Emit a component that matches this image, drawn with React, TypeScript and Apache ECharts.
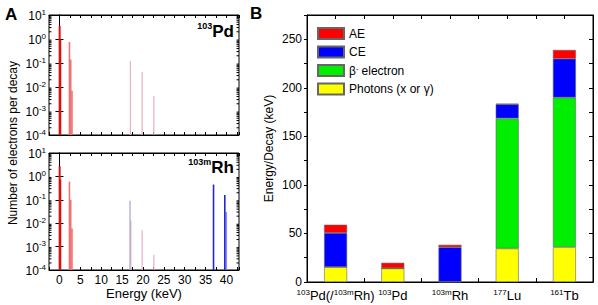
import React, { useEffect, useRef } from 'react';
import * as echarts from 'echarts';

const FONT = '"Liberation Sans", Arial, sans-serif';

// Panel A, top: 103Pd electron spectrum [energy keV, electrons per decay]
const pdAugerN = [[0.05, 3.5], [0.2, 0.9]];
const pdAugerL = [[2.4, 0.75], [2.7, 0.14], [3.0, 0.007]];
const pdAugerK = [[17.0, 0.12], [19.8, 0.042], [22.6, 0.0042]];

// Panel A, bottom: 103mRh electron spectrum
const rhAugerN = [[0.05, 2.7], [0.2, 0.75]];
const rhAugerL = [[2.4, 0.6], [2.7, 0.1], [3.0, 0.006]];
const rhAugerKa = [[16.9, 0.09]];
const rhAugerK = [[17.1, 0.013], [19.8, 0.005], [22.6, 0.00045]];
const rhCE = [[36.9, 0.45], [39.6, 0.16]];
const rhCE2 = [[39.95, 0.03]];

// Panel B: energy per decay (keV)
const bCategories = [
  '{s|103}Pd(/{s|103m}Rh)',
  '{s|103}Pd',
  '{s|103m}Rh',
  '{s|177}Lu',
  '{s|161}Tb',
];
const bPhotons = [15.5, 14, 0.3, 34.5, 36];
const bBeta = [0, 0, 0, 134, 154];
const bCE = [35, 0.3, 35.5, 14.5, 40];
const bAE = [8.5, 5.5, 2.5, 0.6, 9];

const legendNames = ['AE', 'CE', 'β{s|-} electron', 'Photons (x or γ)'];

const minorLogVals: number[] = [];
for (let e = -4; e < 1; e++) {
  for (let m = 2; m <= 9; m++) minorLogVals.push(m * Math.pow(10, e));
}

const supRich = {
  b: { fontSize: 12, fontFamily: FONT, color: '#000', lineHeight: 14, verticalAlign: 'bottom' },
  s: { fontSize: 8, fontFamily: FONT, color: '#000', lineHeight: 8, verticalAlign: 'top' },
};

function spikeSeries(data: number[][], color: string, width: number, grid: number) {
  return {
    type: 'custom',
    xAxisIndex: grid * 2,
    yAxisIndex: grid * 2,
    silent: true,
    data,
    renderItem: (params: any, api: any) => {
      const x = api.value(0);
      const p1 = api.coord([x, api.value(1)]);
      const p0 = api.coord([x, 1e-4]);
      return {
        type: 'line',
        shape: { x1: p0[0], y1: p0[1], x2: p1[0], y2: p1[1] },
        style: { stroke: color, lineWidth: width },
      };
    },
  };
}

function minorTickSeries(grid: number) {
  return {
    type: 'custom',
    xAxisIndex: grid * 2,
    yAxisIndex: grid * 2,
    silent: true,
    data: minorLogVals.map((v) => [0, v]),
    renderItem: (params: any, api: any) => {
      const cs = params.coordSys;
      const y = api.coord([0, api.value(1)])[1];
      return {
        type: 'group',
        children: [
          { type: 'line', shape: { x1: cs.x, y1: y, x2: cs.x + 2.5, y2: y }, style: { stroke: '#000', lineWidth: 1 } },
          { type: 'line', shape: { x1: cs.x + cs.width, y1: y, x2: cs.x + cs.width - 2.5, y2: y }, style: { stroke: '#000', lineWidth: 1 } },
        ],
      };
    },
  };
}

function energyAxis(grid: number, pos: 'bottom' | 'top', labels: boolean) {
  return {
    type: 'value',
    gridIndex: grid,
    position: pos,
    min: -2.5,
    max: 43,
    interval: 2.5,
    axisLine: { show: true, lineStyle: { color: '#000', width: 1 } },
    axisTick: { show: true, inside: true, length: 3, lineStyle: { color: '#000' } },
    axisLabel: {
      show: labels,
      margin: 4,
      fontSize: 12,
      fontFamily: FONT,
      color: '#000',
      formatter: (v: number) => (v >= 0 && Math.abs(v % 5) < 1e-6 && v <= 40 ? String(v) : ''),
    },
    splitLine: { show: false },
  };
}

function logAxis(grid: number, pos: 'left' | 'right', labels: boolean) {
  return {
    type: 'log',
    gridIndex: grid,
    position: pos,
    min: 1e-4,
    max: 10,
    logBase: 10,
    axisLine: { show: true, lineStyle: { color: '#000', width: 1 } },
    axisTick: { show: true, inside: true, length: 4, lineStyle: { color: '#000' } },
    axisLabel: {
      show: labels,
      margin: 3,
      formatter: (v: number) => `{b|10}{s|${Math.round(Math.log10(v))}}`,
      rich: supRich,
    },
    splitLine: { show: false },
  };
}

function catAxis(pos: 'bottom' | 'top', labels: boolean, align: boolean) {
  return {
    type: 'category',
    gridIndex: 2,
    position: pos,
    data: bCategories,
    axisLine: { show: true, lineStyle: { color: '#000', width: 1 } },
    axisTick: { show: true, inside: true, length: 4, alignWithLabel: align, lineStyle: { color: '#000' } },
    axisLabel: {
      show: labels,
      margin: 6,
      interval: 0,
      rich: {
        s: { fontSize: 8, fontFamily: FONT, color: '#000', lineHeight: 8, verticalAlign: 'top' },
      },
      fontSize: 13,
      fontFamily: FONT,
      color: '#000',
      lineHeight: 15,
    },
  };
}

export default function App() {
  const ref = useRef<HTMLDivElement>(null);
  useEffect(() => {
    if (!ref.current) return;
    const chart = echarts.init(ref.current, null, { renderer: 'svg' });
    const barStyle = (c: string) => ({ color: c, borderColor: '#666', borderWidth: 0.6 });
    chart.setOption({
      animation: false,
      backgroundColor: '#fff',
      textStyle: { fontFamily: FONT },
      grid: [
        { left: 49, top: 15, width: 190, height: 120, show: true, borderColor: '#000', borderWidth: 1 },
        { left: 49, top: 153, width: 190, height: 117, show: true, borderColor: '#000', borderWidth: 1 },
        { left: 307, top: 15, right: 5, bottom: 23, show: true, borderColor: '#000', borderWidth: 1 },
      ],
      xAxis: [
        energyAxis(0, 'bottom', false),
        energyAxis(0, 'top', false),
        energyAxis(1, 'bottom', true),
        energyAxis(1, 'top', false),
        catAxis('bottom', true, false),
        catAxis('bottom', false, true),
        catAxis('top', false, false),
        catAxis('top', false, true),
      ],
      yAxis: [
        logAxis(0, 'left', true),
        logAxis(0, 'right', false),
        logAxis(1, 'left', true),
        logAxis(1, 'right', false),
        {
          type: 'value',
          gridIndex: 2,
          position: 'left',
          min: 0,
          max: 275,
          interval: 25,
          name: 'Energy/Decay (keV)',
          nameLocation: 'middle',
          nameGap: 32,
          nameTextStyle: { fontSize: 12, fontFamily: FONT, color: '#000' },
          axisLine: { show: true, lineStyle: { color: '#000' } },
          axisTick: { show: true, inside: false, length: 3, lineStyle: { color: '#000' } },
          axisLabel: {
            margin: 5,
            fontSize: 12,
            fontFamily: FONT,
            color: '#000',
            formatter: (v: number) => (v % 50 === 0 && v <= 250 ? String(v) : ''),
          },
          splitLine: { show: false },
        },
        {
          type: 'value',
          gridIndex: 2,
          position: 'right',
          min: 0,
          max: 275,
          interval: 25,
          axisLine: { show: true, lineStyle: { color: '#000' } },
          axisTick: { show: true, inside: true, length: 4, lineStyle: { color: '#000' } },
          axisLabel: { show: false },
          splitLine: { show: false },
        },
      ],
      legend: {
        orient: 'vertical',
        left: 317,
        top: 27,
        icon: 'rect',
        itemWidth: 26,
        itemHeight: 11,
        itemGap: 5.5,
        padding: 0,
        data: legendNames,
        textStyle: {
          fontSize: 12,
          fontFamily: FONT,
          color: '#000',
          rich: { s: { fontSize: 7, fontFamily: FONT, color: '#000', verticalAlign: 'top', lineHeight: 8 } },
        },
      },
      series: [
        minorTickSeries(0),
        minorTickSeries(1),
        spikeSeries(pdAugerK, '#e8b0ba', 1.2, 0),
        spikeSeries(pdAugerL, '#f07272', 1.6, 0),
        spikeSeries(pdAugerN, '#dd1010', 2, 0),
        spikeSeries(rhAugerK, '#e8b0ba', 1.2, 1),
        spikeSeries(rhAugerKa, '#a4a4d4', 1.2, 1),
        spikeSeries(rhAugerL, '#f07272', 1.6, 1),
        spikeSeries(rhAugerN, '#dd1010', 2, 1),
        spikeSeries(rhCE2, '#8c8cee', 1.6, 1),
        spikeSeries(rhCE, '#2424dd', 1.6, 1),
        {
          type: 'bar', name: legendNames[3], stack: 'e', xAxisIndex: 4, yAxisIndex: 4,
          barWidth: 23, data: bPhotons, itemStyle: barStyle('#ffff00'),
        },
        {
          type: 'bar', name: legendNames[2], stack: 'e', xAxisIndex: 4, yAxisIndex: 4,
          barWidth: 23, data: bBeta, itemStyle: barStyle('#00ee00'),
        },
        {
          type: 'bar', name: legendNames[1], stack: 'e', xAxisIndex: 4, yAxisIndex: 4,
          barWidth: 23, data: bCE, itemStyle: barStyle('#0000ff'),
        },
        {
          type: 'bar', name: legendNames[0], stack: 'e', xAxisIndex: 4, yAxisIndex: 4,
          barWidth: 23, data: bAE, itemStyle: barStyle('#ff0000'),
        },
      ],
      graphic: [
        { type: 'text', left: 5, top: 6, style: { text: 'A', font: `bold 17px ${FONT}`, fill: '#000' } },
        { type: 'text', left: 250, top: 5, style: { text: 'B', font: `bold 17px ${FONT}`, fill: '#000' } },
        {
          type: 'text', x: 13, y: 143, rotation: Math.PI / 2,
          style: {
            text: 'Number of electrons per decay', font: `12px ${FONT}`, fill: '#000',
            textAlign: 'center', textVerticalAlign: 'middle',
          },
        },
        {
          type: 'text', x: 144, y: 293,
          style: {
            text: 'Energy (keV)', font: `13px ${FONT}`, fill: '#000',
            textAlign: 'center', textVerticalAlign: 'middle',
          },
        },
        {
          type: 'text', right: 598 - 234, top: 21,
          style: {
            text: '{s|103}{b|Pd}',
            rich: {
              s: { fontSize: 9, fontWeight: 'bold', fontFamily: FONT, fill: '#000', verticalAlign: 'top', lineHeight: 9 },
              b: { fontSize: 17, fontWeight: 'bold', fontFamily: FONT, fill: '#000', lineHeight: 19, verticalAlign: 'bottom' },
            },
          },
        },
        {
          type: 'text', right: 598 - 234, top: 157,
          style: {
            text: '{s|103m}{b|Rh}',
            rich: {
              s: { fontSize: 9, fontWeight: 'bold', fontFamily: FONT, fill: '#000', verticalAlign: 'top', lineHeight: 9 },
              b: { fontSize: 17, fontWeight: 'bold', fontFamily: FONT, fill: '#000', lineHeight: 19, verticalAlign: 'bottom' },
            },
          },
        },
      ],
    });
    return () => chart.dispose();
  }, []);
  return (
    <div
      ref={ref}
      style={{ position: 'fixed', left: 0, top: 0, width: 598, height: 305, background: '#fff' }}
    />
  );
}
